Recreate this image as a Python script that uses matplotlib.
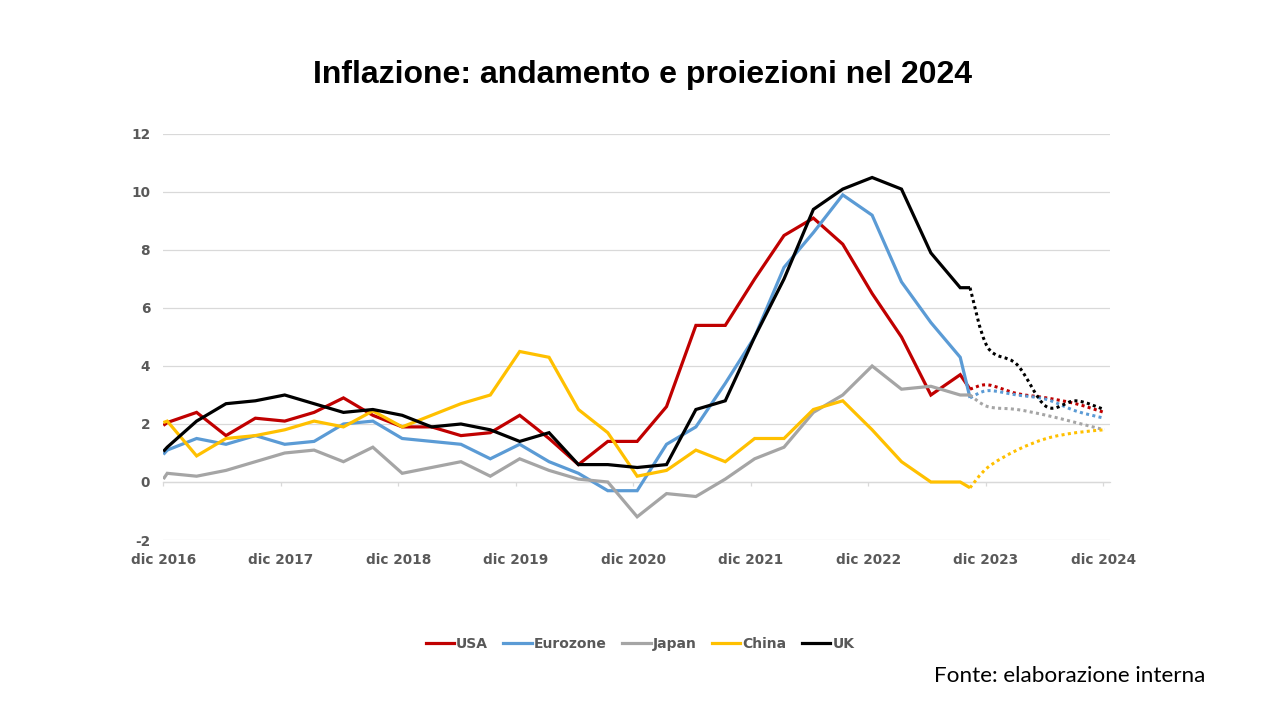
import numpy as np
import matplotlib
matplotlib.use("Agg")
import matplotlib.pyplot as plt
from matplotlib.path import Path
from matplotlib.patches import PathPatch
from matplotlib.lines import Line2D

# ---------------- data ----------------
# x positions in months after "dic 2016"
x_actual = [0.0, 0.4, 3.4, 6.4, 9.4, 12.4, 15.4, 18.4, 21.4, 24.4, 27.4, 30.4,
            33.4, 36.4, 39.4, 42.4, 45.4, 48.4, 51.4, 54.4, 57.4, 60.4, 63.4,
            66.4, 69.4, 72.4, 75.4, 78.4, 81.4, 82.4]
x_proj = [84.2, 87.2, 90.2, 93.2, 96.1]

usa = [1.95, 2.05, 2.4, 1.6, 2.2, 2.1, 2.4, 2.9, 2.3, 1.9, 1.9, 1.6, 1.7, 2.3,
       1.5, 0.6, 1.4, 1.4, 2.6, 5.4, 5.4, 7.0, 8.5, 9.1, 8.2, 6.5, 5.0, 3.0,
       3.7, 3.2]
eurozone = [0.95, 1.1, 1.5, 1.3, 1.6, 1.3, 1.4, 2.0, 2.1, 1.5, 1.4, 1.3, 0.8,
            1.3, 0.7, 0.3, -0.3, -0.3, 1.3, 1.9, 3.4, 5.0, 7.4, 8.6, 9.9, 9.2,
            6.9, 5.5, 4.3, 2.9]
japan = [0.1, 0.3, 0.2, 0.4, 0.7, 1.0, 1.1, 0.7, 1.2, 0.3, 0.5, 0.7, 0.2, 0.8,
         0.4, 0.1, 0.0, -1.2, -0.4, -0.5, 0.1, 0.8, 1.2, 2.4, 3.0, 4.0, 3.2,
         3.3, 3.0, 3.0]
china = [2.05, 2.1, 0.9, 1.5, 1.6, 1.8, 2.1, 1.9, 2.45, 1.9, 2.3, 2.7, 3.0, 4.5,
         4.3, 2.5, 1.7, 0.2, 0.4, 1.1, 0.7, 1.5, 1.5, 2.5, 2.8, 1.8, 0.7, 0.0,
         0.0, -0.2]
uk = [1.05, 1.2, 2.1, 2.7, 2.8, 3.0, 2.7, 2.4, 2.5, 2.3, 1.9, 2.0, 1.8, 1.4,
      1.7, 0.6, 0.6, 0.5, 0.6, 2.5, 2.8, 5.0, 7.0, 9.4, 10.1, 10.5, 10.1, 7.9,
      6.7, 6.7]

usa_proj = [3.35, 3.05, 2.9, 2.7, 2.4]
eurozone_proj = [3.15, 3.0, 2.85, 2.45, 2.2]
japan_proj = [2.6, 2.5, 2.3, 2.05, 1.8]
china_proj = [0.5, 1.1, 1.5, 1.7, 1.8]
uk_proj = [4.65, 4.05, 2.6, 2.8, 2.5]

series_names = ["USA", "Eurozone", "Japan", "China", "UK"]
tick_months = [0, 12, 24, 36, 48, 60, 72, 84, 96]
tick_labels = ["dic 2016", "dic 2017", "dic 2018", "dic 2019", "dic 2020",
               "dic 2021", "dic 2022", "dic 2023", "dic 2024"]
y_ticks = [-2, 0, 2, 4, 6, 8, 10, 12]

title = "Inflazione: andamento e proiezioni nel 2024"
source = "Fonte: elaborazione interna"

# ---------------- style ----------------
colors = ["#C00000", "#5B9BD5", "#A5A5A5", "#FFC000", "#000000"]
txt_gray = "#595959"
grid_gray = "#D9D9D9"
LW = 2.3


def smooth_path(xs, ys):
    P = np.column_stack([xs, ys]).astype(float)
    n = len(P)
    verts = [P[0]]
    codes = [Path.MOVETO]
    for i in range(n - 1):
        p0 = P[i - 1] if i > 0 else P[i]
        p1 = P[i]
        p2 = P[i + 1]
        p3 = P[i + 2] if i + 2 < n else P[i + 1]
        c1 = p1 + (p2 - p0) / 6.0
        c2 = p2 - (p3 - p1) / 6.0
        verts += [c1, c2, p2]
        codes += [Path.CURVE4] * 3
    return Path(verts, codes)


fig = plt.figure(figsize=(12.8, 7.2), dpi=100)
ax = fig.add_axes([0.1276, 0.25, 0.8672 - 0.1276, 0.8139 - 0.25])

actuals = [usa, eurozone, japan, china, uk]
projs = [usa_proj, eurozone_proj, japan_proj, china_proj, uk_proj]

for name, col, act, pr in zip(series_names, colors, actuals, projs):
    ax.plot(x_actual, act, color=col, lw=LW, solid_joinstyle="miter",
            solid_capstyle="butt", zorder=3, label=name)
    path = smooth_path([x_actual[-1]] + x_proj, [act[-1]] + pr)
    patch = PathPatch(path, fill=False, edgecolor=col, lw=LW * 0.95,
                      linestyle=(0, (1, 1.1)), capstyle="butt",
                      transform=ax.transData, zorder=3)
    ax.add_patch(patch)

ax.set_xlim(0, 96.7)
ax.set_ylim(-2, 12)
ax.set_yticks(y_ticks)
ax.set_yticklabels([str(v) for v in y_ticks])
ax.set_xticks(tick_months)
ax.set_xticklabels(tick_labels)

ax.grid(axis="y", color=grid_gray, lw=0.9, zorder=0)
ax.set_axisbelow(True)
for s in ["top", "right", "left"]:
    ax.spines[s].set_visible(False)
ax.spines["bottom"].set_position(("data", 0))
ax.spines["bottom"].set_color(grid_gray)
ax.spines["bottom"].set_linewidth(0.9)

ax.tick_params(axis="y", length=0, pad=9.5, labelsize=9.8, labelcolor=txt_gray)
ax.tick_params(axis="x", direction="out", length=3.2, width=0.9, color=grid_gray,
               pad=48, labelsize=9.8, labelcolor=txt_gray)
for lab in ax.get_xticklabels() + ax.get_yticklabels():
    lab.set_fontweight("bold")
    lab.set_family("DejaVu Sans")

fig.text(0.502, 0.896, title, ha="center", va="center", fontsize=23,
         fontweight="bold", family="Liberation Sans", color="black")
fig.text(0.730, 0.061, source, ha="left", va="center", fontsize=16.2,
         family="Lato", color="black")

handles = [Line2D([0], [0], color=c, lw=LW) for c in colors]
leg = fig.legend(handles, series_names, loc="center", ncol=5,
                 bbox_to_anchor=(0.5, 0.106), frameon=False,
                 handlelength=2.05, handletextpad=0.15, columnspacing=1.1,
                 prop={"family": "DejaVu Sans", "weight": "bold", "size": 10})
for t in leg.get_texts():
    t.set_color(txt_gray)

fig.savefig("out.png", dpi=100)
